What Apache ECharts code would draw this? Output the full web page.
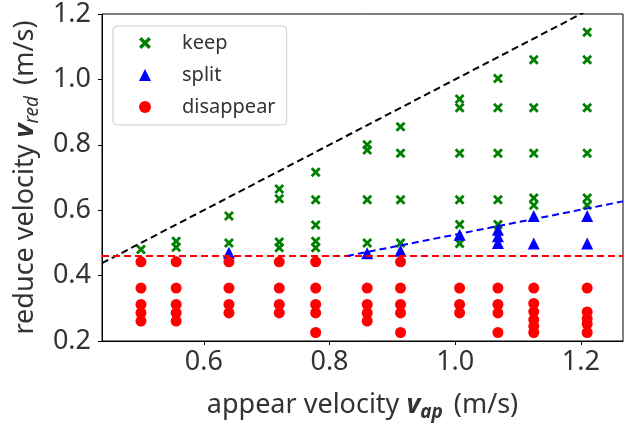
<!DOCTYPE html>
<html>
<head>
<meta charset="utf-8">
<script src="https://cdn.jsdelivr.net/npm/echarts@6/dist/echarts.min.js"></script>
<style>html,body{margin:0;padding:0;background:#fff;}#c{width:630px;height:427px;}</style>
</head>
<body>
<div id="c"></div>
<script>
// ---- data ----
const seriesNames = ['keep', 'split', 'disappear'];
const keepPoints = [
  [0.50,0.48],
  [0.556,0.505],[0.556,0.487],
  [0.64,0.582],[0.64,0.50],
  [0.72,0.665],[0.72,0.635],[0.72,0.503],[0.72,0.485],
  [0.778,0.716],[0.778,0.632],[0.778,0.555],[0.778,0.505],[0.778,0.485],
  [0.86,0.80],[0.86,0.784],[0.86,0.632],[0.86,0.50],
  [0.913,0.855],[0.913,0.774],[0.913,0.632],[0.913,0.50],
  [1.007,0.94],[1.007,0.913],[1.007,0.774],[1.007,0.632],[1.007,0.556],[1.007,0.498],
  [1.068,1.003],[1.068,0.913],[1.068,0.774],[1.068,0.632],[1.068,0.556],
  [1.125,1.06],[1.125,0.913],[1.125,0.774],[1.125,0.637],[1.125,0.615],
  [1.21,1.144],[1.21,1.06],[1.21,0.913],[1.21,0.774],[1.21,0.637],[1.21,0.615]
];
const splitPoints = [
  [0.64,0.47],
  [0.86,0.468],
  [0.913,0.476],
  [1.007,0.525],
  [1.068,0.54],[1.068,0.52],[1.068,0.50],
  [1.125,0.582],[1.125,0.498],
  [1.21,0.582],[1.21,0.498]
];
const disappearPoints = [
  [0.50,0.442],[0.50,0.362],[0.50,0.312],[0.50,0.286],[0.50,0.261],
  [0.556,0.442],[0.556,0.362],[0.556,0.312],[0.556,0.286],[0.556,0.261],
  [0.64,0.442],[0.64,0.362],[0.64,0.312],[0.64,0.286],
  [0.72,0.442],[0.72,0.362],[0.72,0.312],[0.72,0.286],
  [0.778,0.442],[0.778,0.362],[0.778,0.312],[0.778,0.286],[0.778,0.226],
  [0.86,0.362],[0.86,0.312],[0.86,0.286],[0.86,0.261],
  [0.913,0.442],[0.913,0.362],[0.913,0.312],[0.913,0.286],[0.913,0.226],
  [1.007,0.362],[1.007,0.312],[1.007,0.286],
  [1.068,0.362],[1.068,0.312],[1.068,0.286],[1.068,0.226],
  [1.125,0.362],[1.125,0.315],[1.125,0.29],[1.125,0.265],[1.125,0.245],[1.125,0.226],
  [1.21,0.362],[1.21,0.289],[1.21,0.268],[1.21,0.252],[1.21,0.226]
];
const upperLine = [[0.438,0.438],[1.267,1.267]];
const lowerLine = [[0.438,0.46],[1.267,0.46]];
const splitLine = [[0.828,0.46],[1.267,0.627]];
const xTicks = [0.6, 0.8, 1.0, 1.2];
const xRange = [0.438, 1.267];
const yRange = [0.2, 1.2];
const yStep = 0.2;

// ---- chart ----
const FONT = '"Noto Sans", "DejaVu Sans", sans-serif';
const TXT = '#333333';
const XPATH = 'path://M0,2 L2,0 L5,3 L8,0 L10,2 L7,5 L10,8 L8,10 L5,7 L2,10 L0,8 L3,5 Z';
const chart = echarts.init(document.getElementById('c'), null, {renderer: 'canvas'});
function dashed(data, color) {
  return {
    type: 'line', data: data, showSymbol: false, symbol: 'none', z: 5,
    lineStyle: {color: color, width: 2, type: [7, 4]}, silent: true, animation: false
  };
}
const nameRich = (subBold) => ({
  t: {fontFamily: FONT, fontSize: 27, color: TXT, lineHeight: 34},
  v: {fontFamily: FONT, fontSize: 27, color: TXT, fontWeight: 'bold', fontStyle: 'italic', lineHeight: 34},
  s: {fontFamily: FONT, fontSize: 19, color: TXT, fontWeight: subBold ? 'bold' : 'normal', fontStyle: 'italic', lineHeight: 34, verticalAlign: 'bottom', padding: [0, 4, 0, 0]}
});
chart.setOption({
  animation: false,
  backgroundColor: '#ffffff',
  grid: {left: 102, right: 7, top: 14, bottom: 83, show: true, borderColor: '#000', borderWidth: 1},
  legend: {
    orient: 'vertical', left: 113, top: 26,
    data: [
      {name: 'keep', icon: XPATH},
      {name: 'split', icon: 'triangle'},
      {name: 'disappear', icon: 'circle'}
    ],
    itemWidth: 12, itemHeight: 12, itemGap: 8,
    padding: [5, 11, 6, 26],
    borderColor: '#cccccc', borderWidth: 1, borderRadius: 4,
    backgroundColor: 'rgba(255,255,255,0.8)',
    textStyle: {fontFamily: FONT, fontSize: 20, color: TXT, lineHeight: 24, padding: [0, 0, 0, 26]}
  },
  xAxis: {
    type: 'value', min: xRange[0], max: xRange[1],
    axisLine: {show: true, onZero: false, lineStyle: {color: '#000', width: 1}},
    axisTick: {show: true, customValues: xTicks, length: 4, lineStyle: {color: '#000'}},
    axisLabel: {customValues: xTicks, formatter: v => v.toFixed(1), fontFamily: FONT, fontSize: 27, color: TXT, margin: 8},
    splitLine: {show: false},
    name: '{t|appear velocity }{v|v}{s|ap}{t| (m/s)}',
    nameLocation: 'middle', nameGap: 47,
    nameTextStyle: {rich: nameRich(true)}
  },
  yAxis: {
    type: 'value', min: yRange[0], max: yRange[1], interval: yStep,
    axisLine: {show: true, onZero: false, lineStyle: {color: '#000', width: 1}},
    axisTick: {show: true, length: 4, lineStyle: {color: '#000'}},
    axisLabel: {formatter: v => v.toFixed(1), fontFamily: FONT, fontSize: 27, color: TXT, margin: 11},
    splitLine: {show: false},
    name: '{t|reduce velocity }{v|v}{s|red}{t| (m/s)}',
    nameLocation: 'middle', nameGap: 52,
    nameTextStyle: {rich: nameRich(false)}
  },
  series: [
    {name: 'keep', type: 'scatter', data: keepPoints, symbol: XPATH, symbolSize: 10, itemStyle: {color: '#008000', opacity: 1}, z: 3},
    {name: 'split', type: 'scatter', data: splitPoints, symbol: 'triangle', symbolSize: 12, itemStyle: {color: '#0000ff', opacity: 1}, z: 3},
    {name: 'disappear', type: 'scatter', data: disappearPoints, symbol: 'circle', symbolSize: 11, itemStyle: {color: '#ff0000', opacity: 1}, z: 3},
    dashed(upperLine, '#000000'),
    dashed(lowerLine, '#ff0000'),
    dashed(splitLine, '#0000ff')
  ]
});
</script>
</body>
</html>
